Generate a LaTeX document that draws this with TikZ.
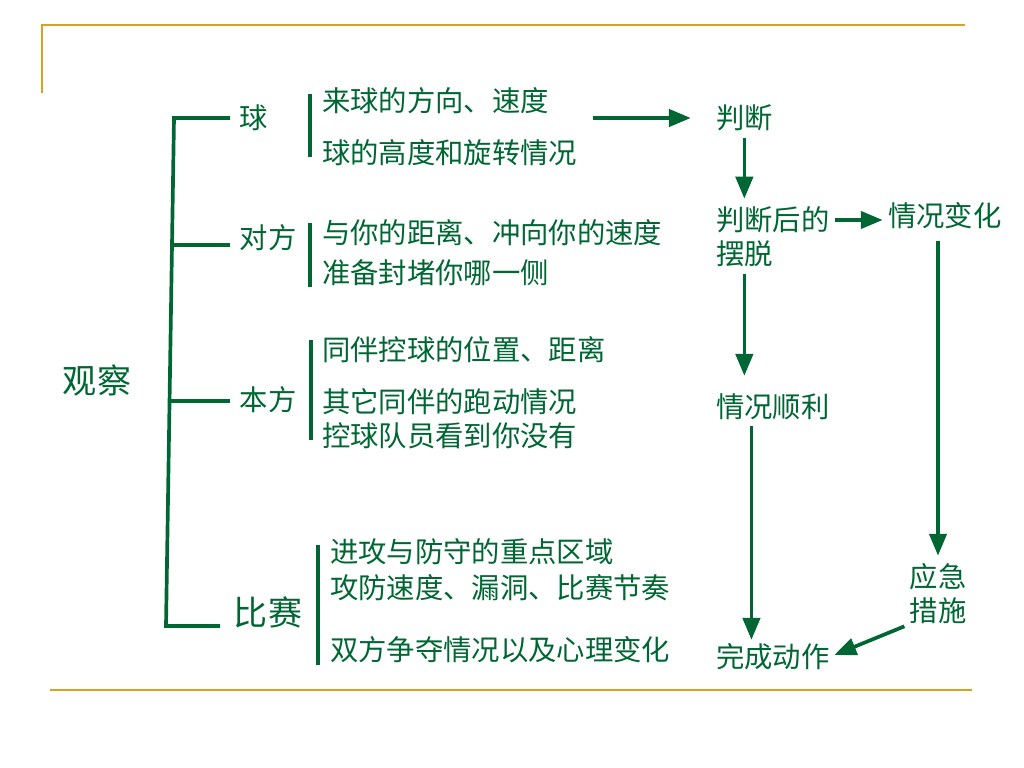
\documentclass[tikz,border=0pt]{standalone}
\usepackage{fontspec}
\usetikzlibrary{arrows}
\newfontfamily\cjk{Noto Sans CJK SC}
\definecolor{grn}{RGB}{0,102,51}
\definecolor{gold}{RGB}{214,162,36}
\tikzset{
  txt/.style={text=grn, font=\cjk\fontsize{20}{24}\selectfont, inner sep=0pt, outer sep=0pt},
  bigtxt/.style={txt, font=\cjk\fontsize{24}{28}\selectfont},
  bar/.style={draw=grn, line width=2.6pt},
  flow/.style={bar, -triangle 45},
  rule/.style={draw=gold, line width=1.4pt}
}
\begin{document}
\begin{tikzpicture}[x=0.0248cm, y=-0.0248cm]
\useasboundingbox (0,0) rectangle (1024,768);
% frame
\draw[rule] (42,93) -- (42,25) -- (965,25);
\draw[rule] (50,690) -- (972,690);
% left tree
\node[bigtxt] (gc) at (97,380) {观察};
\node[txt] (qiu) at (254,118) {球};
\node[txt] (df) at (268,238) {对方};
\node[txt] (bf) at (268,400) {本方};
\node[bigtxt] (bs) at (268,612) {比赛};
\draw[bar] (230,118) -- (174,118) -- (166,626) -- (220,626);
\draw[bar] (172,245) -- (230,245);
\draw[bar] (170,401) -- (230,401);
% details
\draw[bar] (310,94) -- (310,157);
\draw[bar] (310,223) -- (310,287);
\draw[bar] (311,340) -- (311,440);
\draw[bar] (318,545) -- (318,665);
\node[txt, anchor=west] (t1) at (322,101) {来球的方向、速度};
\node[txt, anchor=west] (t2) at (322,153) {球的高度和旋转情况};
\node[txt, anchor=west] (t3) at (322,233) {与你的距离、冲向你的速度};
\node[txt, anchor=west] (t4) at (322,273) {准备封堵你哪一侧};
\node[txt, anchor=west] (t5) at (322,350) {同伴控球的位置、距离};
\node[txt, anchor=west] (t6) at (322,402) {其它同伴的跑动情况};
\node[txt, anchor=west] (t7) at (322,436) {控球队员看到你没有};
\node[txt, anchor=west] (t8) at (330,552) {进攻与防守的重点区域};
\node[txt, anchor=west] (t9) at (330,588) {攻防速度、漏洞、比赛节奏};
\node[txt, anchor=west] (t10) at (330,650) {双方争夺情况以及心理变化};
% right flow
\node[txt, anchor=west] (pd) at (716,118) {判断};
\node[txt, anchor=west] (pdh) at (716,220) {判断后的};
\node[txt, anchor=west] (bt) at (716,254) {摆脱};
\node[txt, anchor=west] (qkbh) at (888,216) {情况变化};
\node[txt, anchor=west] (qksl) at (716,407) {情况顺利};
\node[txt, anchor=west] (wcdz) at (716,657) {完成动作};
\node[txt, align=center] (yjcs) at (938,594) {应急\\措施};
\coordinate (src) at (593,118);
\draw[flow, shorten >=18pt] (src) -- (pd.west);
\draw[flow, shorten <=5pt, shorten >=6pt] (pd.south) -- (pd.south |- pdh.north);
\draw[flow, shorten <=4pt, shorten >=4pt] (pdh.east) -- (pdh.east -| qkbh.west);
\draw[flow, shorten <=5pt, shorten >=13pt] (bt.south) -- (bt.south |- qksl.north);
\draw[flow, shorten <=4pt, shorten >=3pt] ([xshift=-15pt]qksl.south) -- ([xshift=-15pt]wcdz.north);
\draw[flow, shorten <=8pt, shorten >=6pt] (yjcs.north |- qkbh.south) -- (yjcs.north);
\draw[flow, shorten <=4pt, shorten >=4pt] (yjcs.south west) -- (wcdz.east);
\end{tikzpicture}
\end{document}
